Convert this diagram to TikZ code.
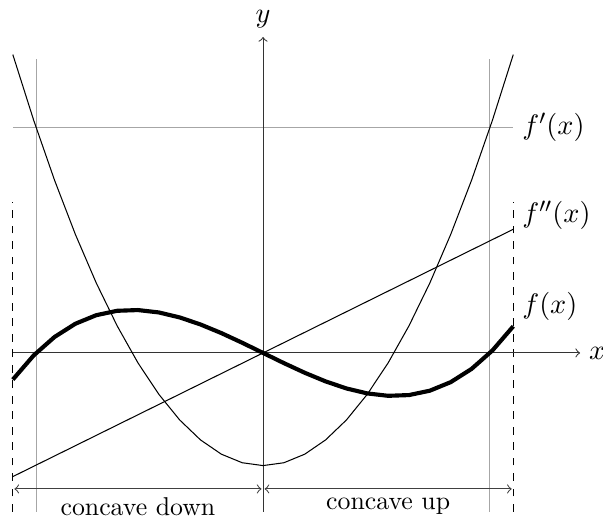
\documentclass[tikz,border=0pt]{standalone}
\begin{document}
\begin{tikzpicture}[
    x=1.785cm, y=1cm,
    axis/.style={->, black!80},
    guide/.style={black!35},
    bound/.style={dashed},
    span/.style={<->, black!75, shorten <=0.6pt, shorten >=0.6pt},
    graph/.style={domain=-1.91:1.91, samples=25},
    lbl/.style={black, font=\fontsize{11}{13}\selectfont}
  ]
    \useasboundingbox (-2.008,-2.302) rectangle (2.595,4.809);
    % guide lines at the zeros of f
    \draw[guide] (-1.732,-2.166) -- (-1.732,4.0);
    \draw[guide] (1.732,-2.166) -- (1.732,4.0);
    \draw[guide] (-1.91,3.07) -- (1.91,3.07) node[right, lbl] (lbl-fp) {$f'(x)$};
    \draw[bound] (-1.91,-2.166) -- (-1.91,2.057);
    \draw[bound] (1.91,-2.166) -- (1.91,2.057);
    % axes
    \draw[axis] (-1.91,0) -- (2.42,0) node[right, lbl] (lbl-x) {$x$};
    \draw[axis] (0,-2.166) -- (0,4.305) node[above, lbl] (lbl-y) {$y$};
    % the three graphs
    \draw[graph] plot (\x, {1.535*(\x*\x-1)});
    \draw (-1.91,-1.685) -- (1.91,1.685);
    \draw[graph, ultra thick] plot (\x, {0.293*(\x*\x*\x-3*\x)});
    \node[lbl, anchor=west] (lbl-fpp) at (1.91,1.88) {$f''(x)$};
    \node[lbl, anchor=west] (lbl-f) at (1.91,0.63) {$f(x)$};
    % concavity
    \coordinate (left) at (-1.91,-1.853);
    \coordinate (mid) at (0,-1.853);
    \coordinate (right) at (1.91,-1.853);
    \draw[span] (left) -- (mid) node[midway, below, black] (lbl-down) {concave down};
    \draw[span] (mid) -- (right) node[midway, below, black] (lbl-up) {concave up};
  \end{tikzpicture}
\end{document}
